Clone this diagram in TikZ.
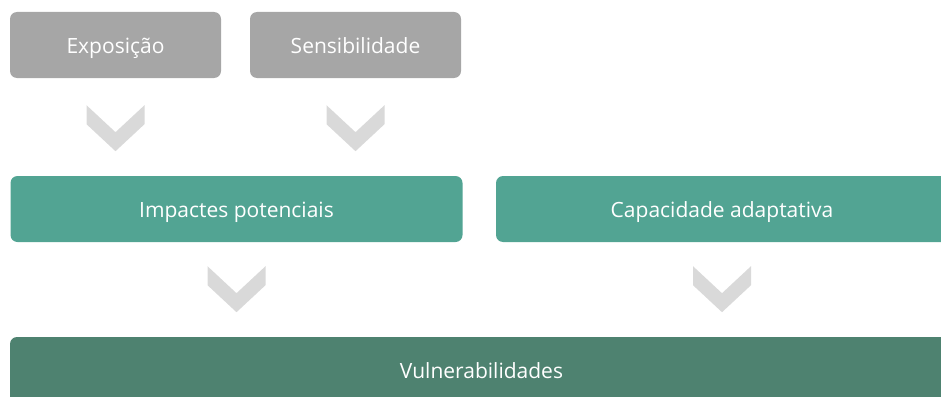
\documentclass[tikz,border=0pt]{standalone}
\usepackage{fontspec}
\setmainfont{Open Sans}
\usepackage{tikz}
\definecolor{boxgray}{HTML}{A6A6A6}
\definecolor{boxteal}{HTML}{52A493}
\definecolor{boxdark}{HTML}{4E8270}
\definecolor{chevgray}{HTML}{D9D9D9}
\tikzstyle{box} = [
    rectangle,
    rounded corners=7pt,
    text=white,
    font=\fontsize{21}{25}\selectfont,
    text height=16pt,
    text depth=0pt,
    minimum height=66pt,
    inner sep=0pt
    ]
\tikzstyle{small} = [box, fill=boxgray, minimum width=211pt]
\tikzstyle{wide} = [box, fill=boxteal, minimum width=452pt]
\tikzstyle{result} = [box, fill=boxdark, minimum width=943pt]
\tikzset{
    chev/.pic={
        \fill[chevgray] (-29,0) -- (0,27) -- (29,0) -- (29,19) -- (0,46) -- (-29,19) -- cycle;
    }
}

\begin{document}
\begin{tikzpicture}[x=1pt, y=-1pt]
        \useasboundingbox (0,0) rectangle (941,396);

        \node (expo) [small] at (115.5,45) {Exposição};
        \node (sens) [small] at (355.5,45) {Sensibilidade};

        \node (impact) [wide] at (236.5,209) {Impactes potenciais};
        \node (capac) [wide] at (722,209) {Capacidade adaptativa};

        \node (vuln) [result] at (481.5,370) {Vulnerabilidades};

        % Chevrons
        \pic at ([yshift=-27pt]expo.south) {chev};
        \pic at ([yshift=-27pt]sens.south) {chev};
        \pic at ([yshift=-24pt]impact.south) {chev};
        \pic at ([yshift=-24pt]capac.south) {chev};

    \end{tikzpicture}
\end{document}
